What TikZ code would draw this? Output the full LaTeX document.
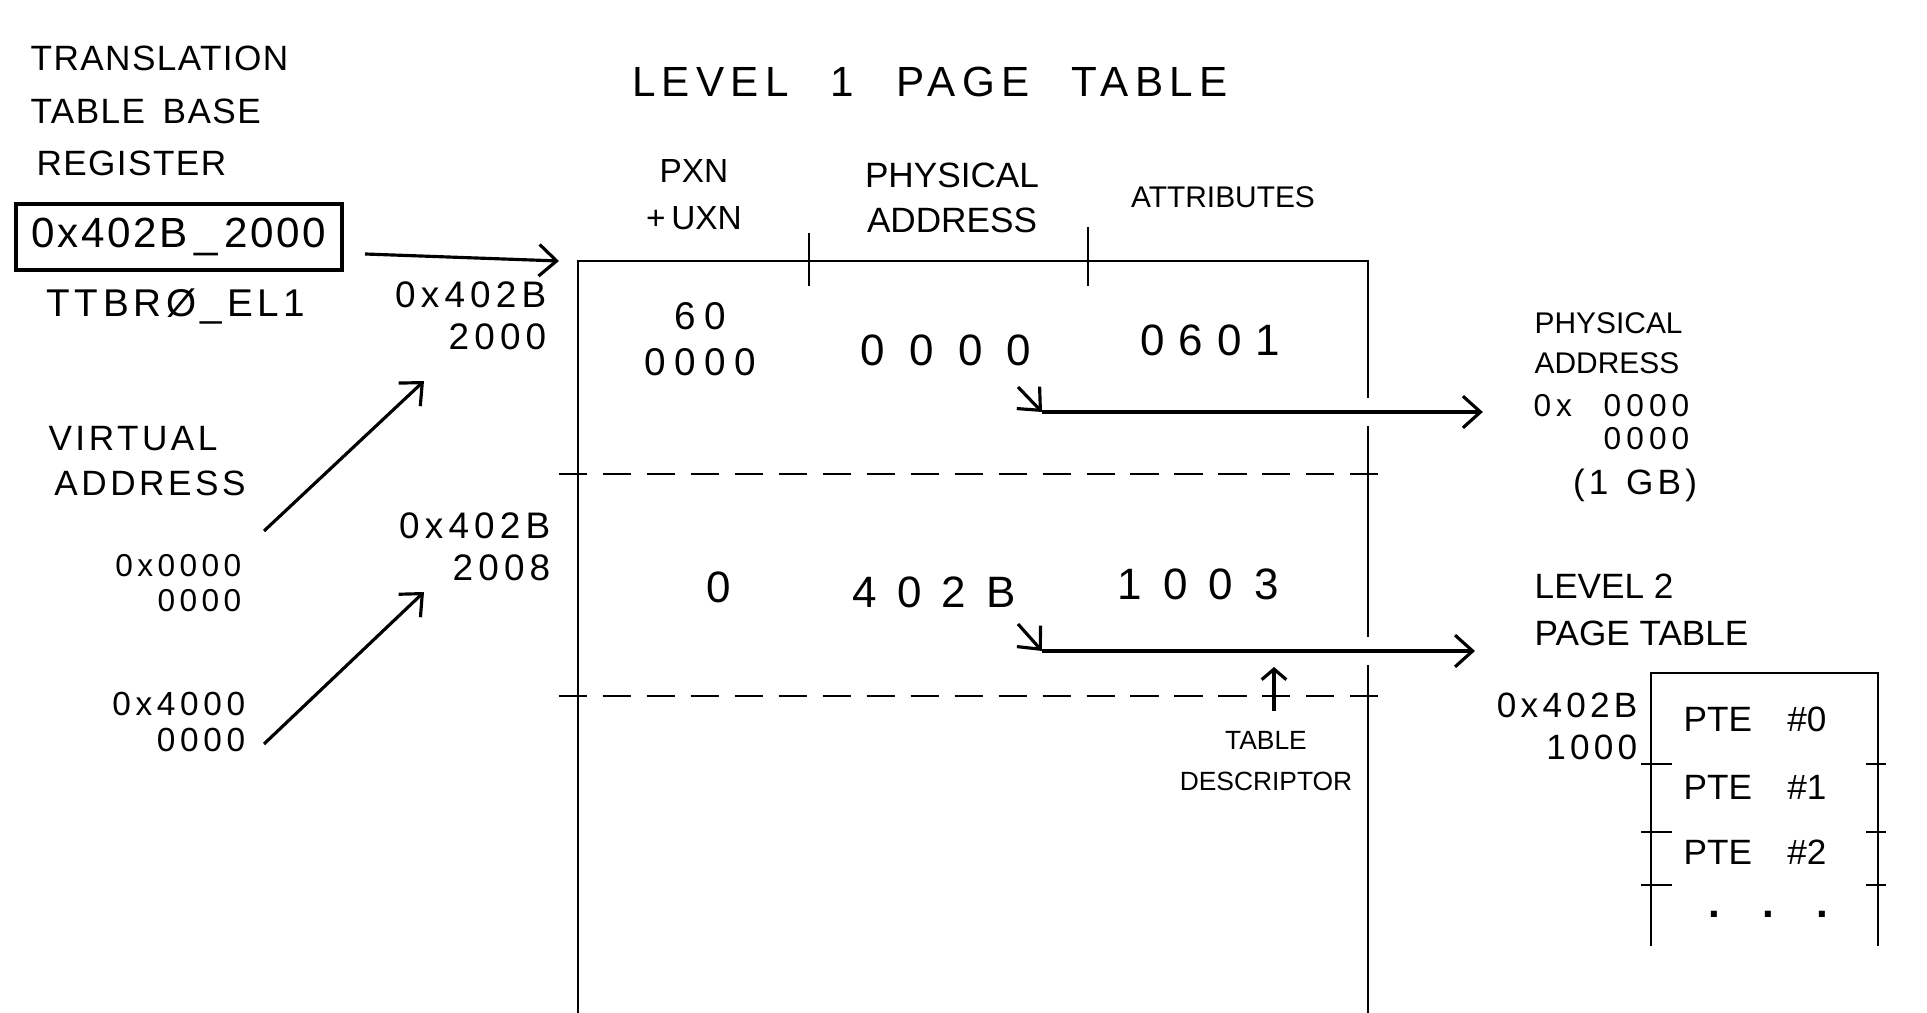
\documentclass[tikz,border=0pt]{standalone}
\usepackage{fontspec}
\setmainfont{Liberation Sans}
\usepackage{xcolor}
\usepackage{tikz}
\usetikzlibrary{arrows.meta, positioning, calc}
\newcommand{\trk}[1]{\addfontfeature{LetterSpace=#1}}

\begin{document}
\begin{tikzpicture}[x=0.01cm, y=-0.01cm,
    lbl/.style={inner sep=0pt, align=center, font=\fontsize{10}{15}\selectfont},
    small/.style={inner sep=0pt, align=center, font=\fontsize{8.5}{11.5}\selectfont},
    num/.style={inner sep=0pt, align=right, anchor=east, font=\fontsize{10.5}{12}\selectfont\trk{14}},
    big/.style={inner sep=0pt, font=\fontsize{12.5}{13}\selectfont\trk{#1}},
    regbox/.style={draw, line width=1.1pt, minimum width=3.26cm, minimum height=0.66cm, inner sep=0pt, font=\fontsize{12}{14}\selectfont\trk{6}},
    tbl/.style={line width=0.6pt},
    sepline/.style={line width=0.6pt, dash pattern=on 8pt off 4.5pt},
    arr/.style={-{Straight Barb[length=5pt, width=9pt]}, line width=0.9pt},
    cut/.style={preaction={draw=white, line width=8pt, -}}]
    \useasboundingbox (0,0) rectangle (1927,1013);

    % registro TTBR
    \node[lbl, align=left, anchor=west, font=\fontsize{10}{15}\selectfont\trk{4}] (regname) at (30,111) {TRANSLATION\\TABLE\enspace BASE\\\,REGISTER};
    \node[regbox] (ttbr) at (179,237) {0x402B\,\_\,2000};
    \node[lbl, font=\fontsize{11}{13}\selectfont\trk{12}] (ttbrid) at (176,307) {TTBRØ\_EL1};

    % indirizzi virtuali
    \node[lbl, align=left, font=\fontsize{10}{13}\selectfont\trk{10}] (vaname) at (147,461) {VIRTUAL\\\,ADDRESS};
    \node[num, font=\fontsize{9}{10}\selectfont\trk{14}] (va0) at (242,583) {0x0000\\0000};
    \node[num, font=\fontsize{9.5}{10.5}\selectfont\trk{14}] (va1) at (246,722) {0x4000\\0000};
    \node[num] (ent0) at (547,316) {0x402B\\2000};
    \node[num] (ent1) at (551,547) {0x402B\\2008};

    % tabella livello 1
    \node[lbl, font=\fontsize{12}{14}\selectfont\trk{15}] (l1title) at (930,82) {LEVEL\quad 1\quad PAGE\quad TABLE};
    \coordinate (l1nw) at (578,261);
    \coordinate (l1ne) at (1368,261);
    \draw[tbl] (578,1013) -- (l1nw) -- (l1ne) -- (1368,1013);
    \draw[tbl] (809,233) -- (809,286);
    \draw[tbl] (1088,227) -- (1088,286);
    \draw[sepline] (559,474) -- (1389,474);
    \draw[sepline] (559,696) -- (1389,696);

    \draw[arr] ([shift={(21,17)}]ttbr.east) -- ([xshift=-0.19cm]l1nw);
    \draw[arr] ([shift={(22,-52)}]va0.east) -- ([shift={(-123,65)}]ent0.east);
    \draw[arr] ([shift={(18,22)}]va1.east) -- ([shift={(-127,45)}]ent1.east);

    \node[lbl, font=\fontsize{9.5}{13.3}\selectfont] (pxn) at (694,195) {PXN\\+\,UXN};
    \node[lbl, font=\fontsize{10}{12.8}\selectfont] (phys) at (952,198) {PHYSICAL\\ADDRESS};
    \node[lbl, font=\fontsize{8.5}{10}\selectfont] (attr) at (1223,197) {ATTRIBUTES};

    % riga 0
    \node[lbl, font=\fontsize{11}{13}\selectfont\trk{22}] (r0xn) at (700,339) {60\\0000};
    \node[big=55] (r0pa) at (946,350) {0000};
    \node[big=32] (r0at) at (1210,340) {0601};
    % riga 1
    \node[big=0] (r1xn) at (719,587) {0};
    \node[big=46] (r1pa) at (934,592) {402B};
    \node[big=48] (r1at) at (1198,584) {1003};

    % indirizzo fisico
    \node[small, align=left, anchor=west] (paname) at (1534,343) {PHYSICAL\\ADDRESS};
    \node[num, font=\fontsize{9}{9.5}\selectfont\trk{16}] (paval) at (1690,422) {0x\quad 0000\\0000};
    \node[lbl, font=\fontsize{10}{12}\selectfont\trk{12}] (pasize) at (1635,485) {(1\enspace GB)};

    % tabella livello 2
    \node[lbl, align=left, anchor=west, font=\fontsize{10}{13.4}\selectfont] (l2title) at (1534,610) {LEVEL 2\\PAGE TABLE};
    \node[num, font=\fontsize{10}{12}\selectfont\trk{12}] (l2base) at (1638,726) {0x402B\\1000};
    \coordinate (l2nw) at (1651,673);
    \coordinate (l2ne) at (1878,673);
    \draw[tbl, line width=0.7pt] (1651,946) -- (l2nw) -- (l2ne) -- (1878,946);
    \draw[tbl] (1641,764) -- (1672,764);
    \draw[tbl] (1866,764) -- (1886,764);
    \draw[tbl] (1641,832) -- (1672,832);
    \draw[tbl] (1866,832) -- (1886,832);
    \draw[tbl] (1641,885) -- (1672,885);
    \draw[tbl] (1866,885) -- (1886,885);
    \node[lbl] (pte0) at (1755,719) {PTE\quad\#0};
    \node[lbl] (pte1) at (1755,787) {PTE\quad\#1};
    \node[lbl] (pte2) at (1755,852) {PTE\quad\#2};
    \node[lbl, font=\fontsize{12}{12}\selectfont\bfseries] (pte3) at (1768,914) {.\quad.\quad.};

    % descrittori
    \coordinate (pa0) at (1042,412);
    \coordinate (pa1) at (1042,651);
    \draw[arr] ([shift={(72,37)}]r0pa.center) -- (pa0);
    \draw[arr, cut] (pa0) -- ($(pa0 -| paval.west)+(-50,0)$);
    \draw[arr] ([shift={(84,32)}]r1pa.center) -- (pa1);
    \draw[arr, cut] (pa1) -- ($(pa1 -| l2title.west)+(-59,0)$);

    \node[small, font=\fontsize{7.5}{11.5}\selectfont] (tdesc) at (1266,761) {TABLE\\DESCRIPTOR};
    \draw[arr, -{Straight Barb[length=3pt, width=7pt]}] ([shift={(8,-20)}]tdesc.north) -- ($(tdesc.north |- pa1)+(8,16)$);
\end{tikzpicture}
\end{document}
